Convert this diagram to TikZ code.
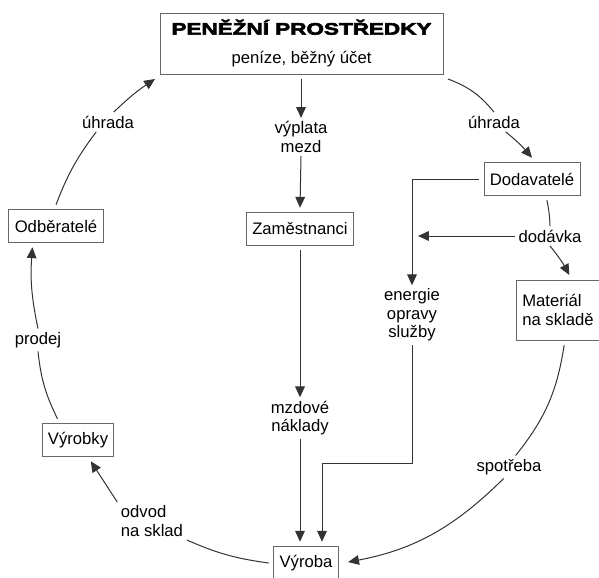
\documentclass[tikz,border=0pt]{standalone}
\usepackage{fontspec}
\setmainfont{Liberation Sans}
\newfontfamily\titlefont[FakeStretch=1.35,FakeBold=3.5]{Liberation Sans Bold}
\usetikzlibrary{positioning, arrows.meta}
\newcommand\diagfont{\fontsize{10}{11}\selectfont}

\begin{document}
\begin{tikzpicture}[
    x=0.6pt, y=-0.6pt,
    % styly uzlu
    box/.style={
        rectangle, draw=black!60, line width=0.6pt,
        minimum height=19.5pt, inner xsep=3.5pt, inner ysep=2pt,
        outer sep=3pt, font=\diagfont, align=center
    },
    tag/.style={
        inner sep=2pt, font=\diagfont, align=center
    },
    arrow/.style={
        -{Triangle[length=6.5pt, width=5.8pt]}, line width=0.6pt, draw=black!80
    },
    link/.style={
        line width=0.6pt, draw=black!80
    }
]
\useasboundingbox (0,0) rectangle (599,577);

% ── boxy ──
\node[box, minimum width=169.8pt, minimum height=36.6pt] (money) at (301.5,43.5)
    {{\titlefont\fontsize{10}{12}\selectfont PENĚŽNÍ PROSTŘEDKY}\\[6.5pt] peníze, běžný účet};
\node[box] (zam)     at (300,229)   {Zaměstnanci};
\node[box] (dod)     at (532,179)   {Dodavatelé};
\node[box, align=left, minimum height=36pt] (mat) at (558,310) {Materiál\\na skladě};
\node[box] (odb)     at (56,226)    {Odběratelé};
\node[box] (vyrobky) at (78,440)    {Výrobky};
\node[box] (vyroba)  at (306,563)   {Výroba};

% ── popisky ──
\node[tag] (vyplata)  at (301,137) {výplata\\mezd};
\node[tag] (mzdove)   at (300,418) {mzdové\\náklady};
\node[tag] (energie)  at (412,315) {energie\\opravy\\služby};
\node[tag] (dodavka)  at (550,236) {dodávka};
\node[tag] (uhradaR)  at (494,122) {úhrada};
\node[tag] (uhradaL)  at (108,122) {úhrada};
\node[tag] (prodej)   at (38,340)  {prodej};
\node[tag, align=left] (odvod) at (152,521) {odvod\\na sklad};
\node[tag] (spotreba) at (509,467) {spotřeba};

% ── svislá osa: mzdy ──
\draw[arrow] (money.south -| vyplata) -- (vyplata.north);
\draw[arrow] (vyplata.south) -- (zam.north);
\draw[arrow] (zam.south) -- (mzdove.north);
\draw[arrow] (mzdove.south) -- (mzdove.south |- vyroba.north);

% ── dodávky: energie, opravy, služby ──
\coordinate (elbow) at (322,463);
\draw[arrow] (dod.west) -| (energie.north);
\draw[arrow] (energie.south) |- (elbow) -- (elbow |- vyroba.north);
\draw[arrow, shorten >=3.6pt] (dodavka.west) -- (dodavka.west -| energie.north);

% ── kruh ──
\draw[link]  (money.south east) to[bend left=15] (uhradaR.north);
\draw[arrow] (uhradaR.-40) to[bend left=5] (dod.north);
\draw[link]  (dod.-55) to[bend left=5] (dodavka.north);
\draw[arrow] (dodavka.south) to[bend left=5] (mat.72);
\draw[link]  (mat.-80) to[bend left=15] (spotreba.60);
\draw[arrow, shorten >=3pt] (spotreba.-115) to[bend left=17] (vyroba.east);
\draw[link]  (vyroba.west) to[bend left=8] (odvod.south east);
\draw[arrow] (odvod.north west) -- (vyrobky.-59);
\draw[link]  (vyrobky.134) to[bend left=10] (prodej.south);
\draw[arrow] (prodej.north) to[bend left=8] (odb.-138);
\draw[link]  (odb.north) to[bend left=8] (uhradaL.-140);
\draw[arrow] (uhradaL.60) to[bend left=5] (money.south west);

\end{tikzpicture}
\end{document}
